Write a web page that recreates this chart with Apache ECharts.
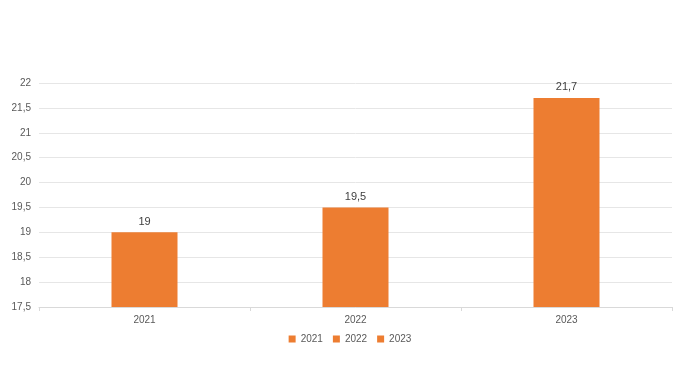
<!DOCTYPE html>
<html><head><meta charset="utf-8">
<script src="https://cdn.jsdelivr.net/npm/echarts@6/dist/echarts.min.js"></script>
<style>html,body{margin:0;padding:0;background:#fff}#c{width:700px;height:382px}</style>
</head><body><div id="c"></div>
<script>
const categories = ['2021', '2022', '2023'];
const values = [19, 19.5, 21.7];
const seriesNames = ['2021', '2022', '2023'];
const yMin = 17.5, yMax = 22, yStep = 0.5;

const fmt = v => String(v).replace('.', ',');
const chart = echarts.init(document.getElementById('c'));
const series = seriesNames.map((name, i) => ({
  name: name,
  type: 'bar',
  stack: 'all',
  barWidth: 66,
  itemStyle: { color: '#ED7D31' },
  label: { show: true, position: 'top', color: '#404040', fontSize: 11, fontFamily: 'Liberation Sans, Arial, sans-serif', formatter: p => fmt(p.value) },
  data: categories.map((c, j) => j === i ? values[j] : '-')
}));
chart.setOption({
  animation: false,
  grid: { left: 39, right: 28, top: 83, bottom: 75 },
  legend: {
    itemWidth: 7, itemHeight: 7, itemGap: 10,
    top: 329,
    icon: 'rect',
    textStyle: { color: '#595959', fontSize: 10, fontFamily: 'Liberation Sans, Arial, sans-serif' },
    data: seriesNames
  },
  xAxis: {
    type: 'category', data: categories,
    axisLine: { lineStyle: { color: '#d9d9d9' } },
    axisTick: { show: true, length: 4, lineStyle: { color: '#d9d9d9' } },
    axisLabel: { color: '#595959', fontSize: 10, margin: 8, fontFamily: 'Liberation Sans, Arial, sans-serif' }
  },
  yAxis: {
    type: 'value', min: yMin, max: yMax, interval: yStep,
    axisLine: { show: false }, axisTick: { show: false },
    splitLine: { lineStyle: { color: '#e6e6e6' } },
    axisLabel: { color: '#595959', fontSize: 10, margin: 8, formatter: v => fmt(v), fontFamily: 'Liberation Sans, Arial, sans-serif' }
  },
  series: series
});
</script></body></html>
